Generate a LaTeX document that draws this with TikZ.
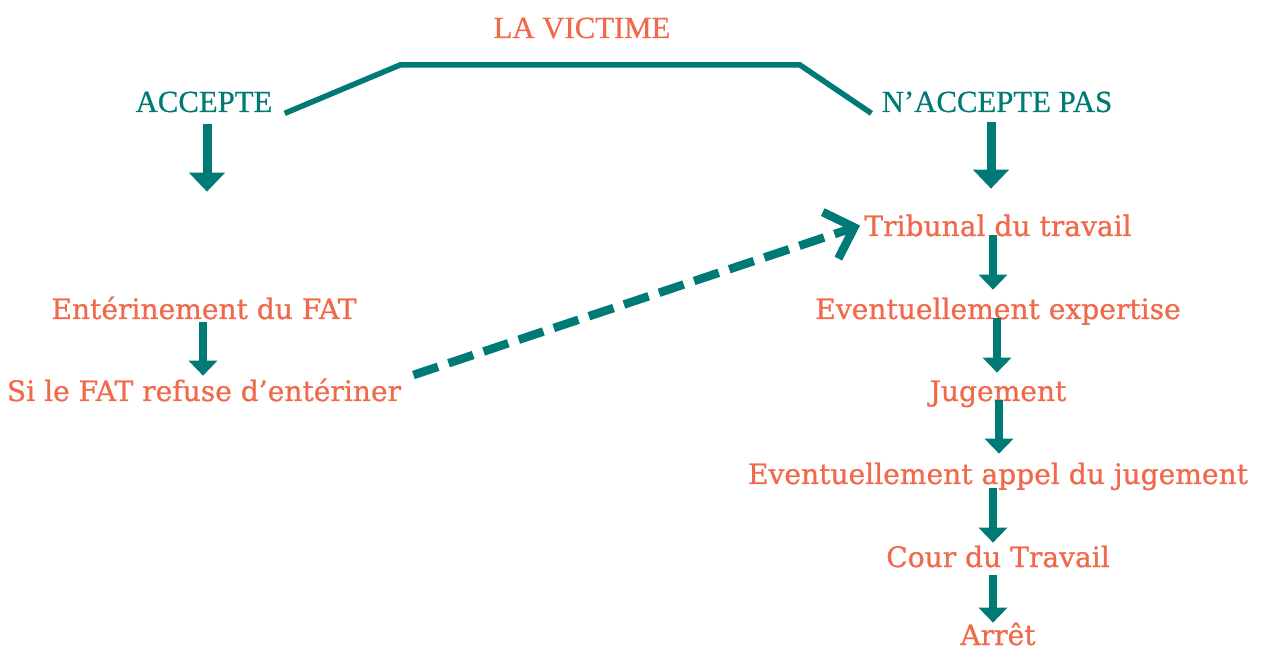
\documentclass[tikz,border=0pt]{standalone}
\usepackage{fontspec}
\setmainfont{DejaVu Serif}
\newfontfamily\headfont{Liberation Serif}[FakeBold=0.6]
\newfontfamily\stagefont{DejaVu Serif}[FakeBold=0.9]
\usepackage{tikz}
\usetikzlibrary{arrows.meta, positioning}

\definecolor{deepteal}{RGB}{0,122,116}
\definecolor{salmon}{RGB}{240,105,75}

\begin{document}
\begin{tikzpicture}[
  line join=miter,
  head/.style={
    text=deepteal,
    font=\headfont\fontsize{17.5}{20}\selectfont,
    anchor=base,
    inner sep=0pt,
    text height=0.42cm,
    text depth=0pt
  },
  title/.style={
    head,
    text=salmon
  },
  stage/.style={
    text=salmon,
    font=\stagefont\fontsize{16}{19}\selectfont,
    anchor=base,
    inner sep=0pt,
    text height=0.42cm,
    text depth=0pt
  },
  bigflow/.style={
    -{Triangle[length=0.38cm,width=0.7cm]},
    line width=0.18cm,
    draw=deepteal
  },
  flow/.style={
    -{Triangle[length=0.3cm,width=0.56cm]},
    line width=0.15cm,
    draw=deepteal
  },
  bracket/.style={
    line width=0.11cm,
    draw=deepteal
  },
  appeal/.style={
    -{Straight Barb[length=0.5cm,width=0.98cm,sharp]},
    line width=0.17cm,
    dash pattern=on 0.52cm off 0.22cm,
    draw=deepteal
  }
]

\useasboundingbox (0,0) rectangle (25.26,-13);

% =========================================================
% Top: the victim and the two choices
% =========================================================

\node[title] (victime) at (11.64,-0.76) {LA VICTIME};

\node[head] (acc) at (4.08,-2.24) {ACCEPTE};

\node[head] (nacc) at (19.94,-2.24) {N’ACCEPTE PAS};

\coordinate (kneeL) at (8.0,-1.3);
\coordinate (kneeR) at (16.0,-1.3);

\draw[bracket] ([xshift=0.24cm,yshift=-0.02cm]acc.south east)
  -- (kneeL) -- (kneeR)
  -- ([xshift=-0.2cm,yshift=-0.02cm]nacc.south west);


% ---------------- Left branch ----------------

\node[stage] (enter) at (4.08,-6.38) {Entérinement du FAT};

\node[stage] (refus) at (4.08,-8.02) {Si le FAT refuse d’entériner};

\draw[bigflow, shorten >=2.12cm] ([xshift=0.06cm,yshift=-0.24cm]acc.south)
  -- ([xshift=0.06cm]enter.north);
\draw[flow] ([xshift=-0.02cm,yshift=-0.06cm]enter.south)
  -- ([xshift=-0.02cm,yshift=0.08cm]refus.north);


% ---------------- Right branch ----------------

\node[stage] (trib) at (19.96,-4.72) {Tribunal du travail};

\node[stage] (expert) at (19.96,-6.38) {Eventuellement expertise};

\node[stage] (jug) at (19.96,-8.02) {Jugement};

\node[stage] (appel) at (19.96,-9.68) {Eventuellement appel du jugement};

\node[stage] (cour) at (19.96,-11.34) {Cour du Travail};

\node[stage] (arret) at (19.96,-12.9) {Arrêt};

\draw[bigflow] ([xshift=-0.12cm,yshift=-0.2cm]nacc.south)
  -- ([xshift=-0.14cm,yshift=0.52cm]trib.north);
\draw[flow] ([xshift=-0.1cm,yshift=0.02cm]trib.south)
  -- ([xshift=-0.1cm,yshift=0.16cm]expert.north);
\draw[flow] ([xshift=-0.02cm,yshift=0.02cm]expert.south)
  -- ([xshift=-0.02cm,yshift=0.14cm]jug.north);
\draw[flow] ([xshift=0.02cm,yshift=0.02cm]jug.south)
  -- ([xshift=0.02cm,yshift=0.18cm]appel.north);
\draw[flow] ([xshift=-0.1cm,yshift=-0.08cm]appel.south)
  -- ([xshift=-0.1cm,yshift=0.06cm]cour.north);
\draw[flow] ([xshift=-0.1cm,yshift=-0.16cm]cour.south)
  -- ([xshift=-0.1cm,yshift=0.02cm]arret.north);

% Refusal goes to the labour court
\draw[appeal] ([xshift=0.24cm,yshift=0.31cm]refus.east)
  -- ([xshift=-0.08cm]trib.west);

\end{tikzpicture}
\end{document}
